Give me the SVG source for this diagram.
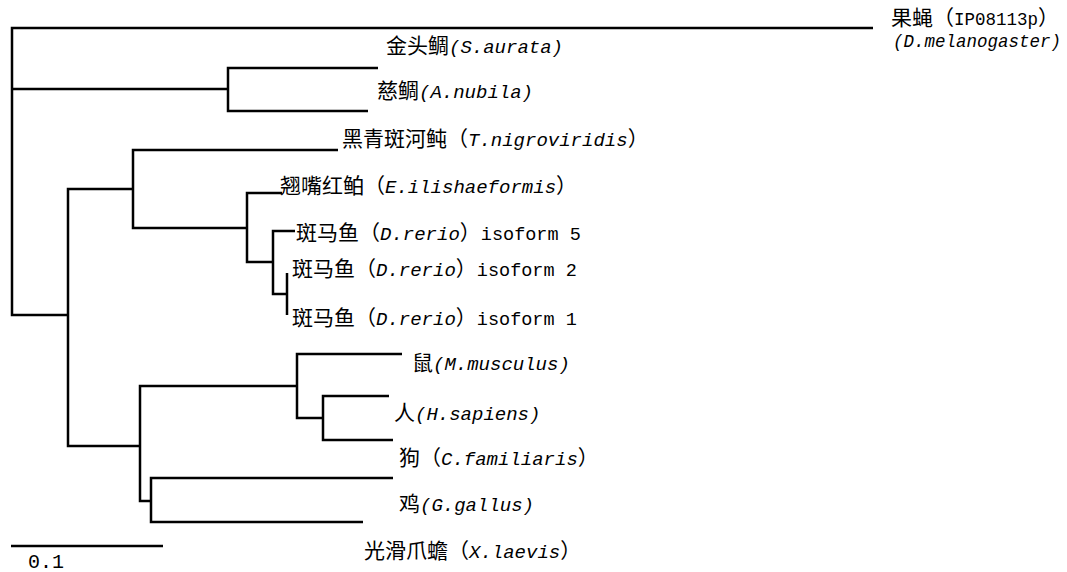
<svg xmlns="http://www.w3.org/2000/svg" width="1067" height="572" viewBox="0 0 1067 572">
<style>
.br{fill:none;stroke:#000;stroke-width:2.5;stroke-linejoin:miter;stroke-linecap:butt}
text{fill:#000}
.cjk{font-family:"Noto Sans CJK SC","Noto Sans CJK TC",sans-serif;font-size:21px}
.lat{font-family:"Liberation Mono","DejaVu Sans Mono",monospace;font-size:19px;font-style:italic}
.up{font-family:"Liberation Mono","DejaVu Sans Mono",monospace;font-size:18.5px;font-style:normal}
</style>
<rect width="1067" height="572" fill="#fff"/>
<g id="connectors">
<path class="br" d="M 873 28 H 12 V 315 H 68"/>
<path class="br" d="M 12 89 H 228"/>
<path class="br" d="M 378 68 H 228 V 111 H 368"/>
<path class="br" d="M 133 189 H 68 V 446 H 140"/>
<path class="br" d="M 338 150 H 133 V 228 H 247"/>
<path class="br" d="M 282 193 H 247 V 262 H 273"/>
<path class="br" d="M 295 231 H 273 V 294 H 287"/>
<path class="br" d="M 287 273 V 315"/>
<path class="br" d="M 297 386 H 140 V 501 H 151"/>
<path class="br" d="M 402 354 H 297 V 418 H 323"/>
<path class="br" d="M 389 396 H 323 V 440 H 393"/>
<path class="br" d="M 393 478 H 151 V 522 H 363"/>
</g>
<g id="scale">
<path class="br" d="M 11 546 H 163"/>
<text class="up" x="28" y="568" style="font-size:20px">0.1</text>
</g>
<g id="n-fly">
<text x="891" y="25"><tspan class="cjk">果蝇（</tspan><tspan class="up" style="font-size:17.5px">IP08113p</tspan><tspan class="cjk">）</tspan></text>
<text class="lat" x="893" y="47" style="font-size:17.5px">(D.melanogaster)</text>
</g>
<g id="n-saurata">
<text x="386" y="53"><tspan class="cjk">金头鲷</tspan><tspan class="lat">(S.aurata)</tspan></text>
</g>
<g id="n-anubila">
<text x="377" y="98"><tspan class="cjk">慈鲷</tspan><tspan class="lat">(A.nubila)</tspan></text>
</g>
<g id="n-tnigro">
<text x="342" y="146"><tspan class="cjk">黑青斑河鲀（</tspan><tspan class="lat">T.nigroviridis</tspan><tspan class="cjk">）</tspan></text>
</g>
<g id="n-eilish">
<text x="280" y="193"><tspan class="cjk">翘嘴红鲌（</tspan><tspan class="lat">E.ilishaeformis</tspan><tspan class="cjk">）</tspan></text>
</g>
<g id="n-iso5">
<text x="296" y="240"><tspan class="cjk">斑马鱼（</tspan><tspan class="lat">D.rerio</tspan><tspan class="cjk">）</tspan><tspan class="up">isoform 5</tspan></text>
</g>
<g id="n-iso2">
<text x="292" y="276"><tspan class="cjk">斑马鱼（</tspan><tspan class="lat">D.rerio</tspan><tspan class="cjk">）</tspan><tspan class="up">isoform 2</tspan></text>
</g>
<g id="n-iso1">
<text x="292" y="325"><tspan class="cjk">斑马鱼（</tspan><tspan class="lat">D.rerio</tspan><tspan class="cjk">）</tspan><tspan class="up">isoform 1</tspan></text>
</g>
<g id="n-mouse">
<text x="412" y="370"><tspan class="cjk">鼠</tspan><tspan class="lat">(M.musculus)</tspan></text>
</g>
<g id="n-human">
<text x="394" y="420"><tspan class="cjk">人</tspan><tspan class="lat">(H.sapiens)</tspan></text>
</g>
<g id="n-dog">
<text x="399" y="465"><tspan class="cjk">狗（</tspan><tspan class="lat">C.familiaris</tspan><tspan class="cjk">）</tspan></text>
</g>
<g id="n-chicken">
<text x="399" y="511"><tspan class="cjk">鸡</tspan><tspan class="lat">(G.gallus)</tspan></text>
</g>
<g id="n-frog">
<text x="364" y="558"><tspan class="cjk">光滑爪蟾（</tspan><tspan class="lat">X.laevis</tspan><tspan class="cjk">）</tspan></text>
</g>
</svg>
